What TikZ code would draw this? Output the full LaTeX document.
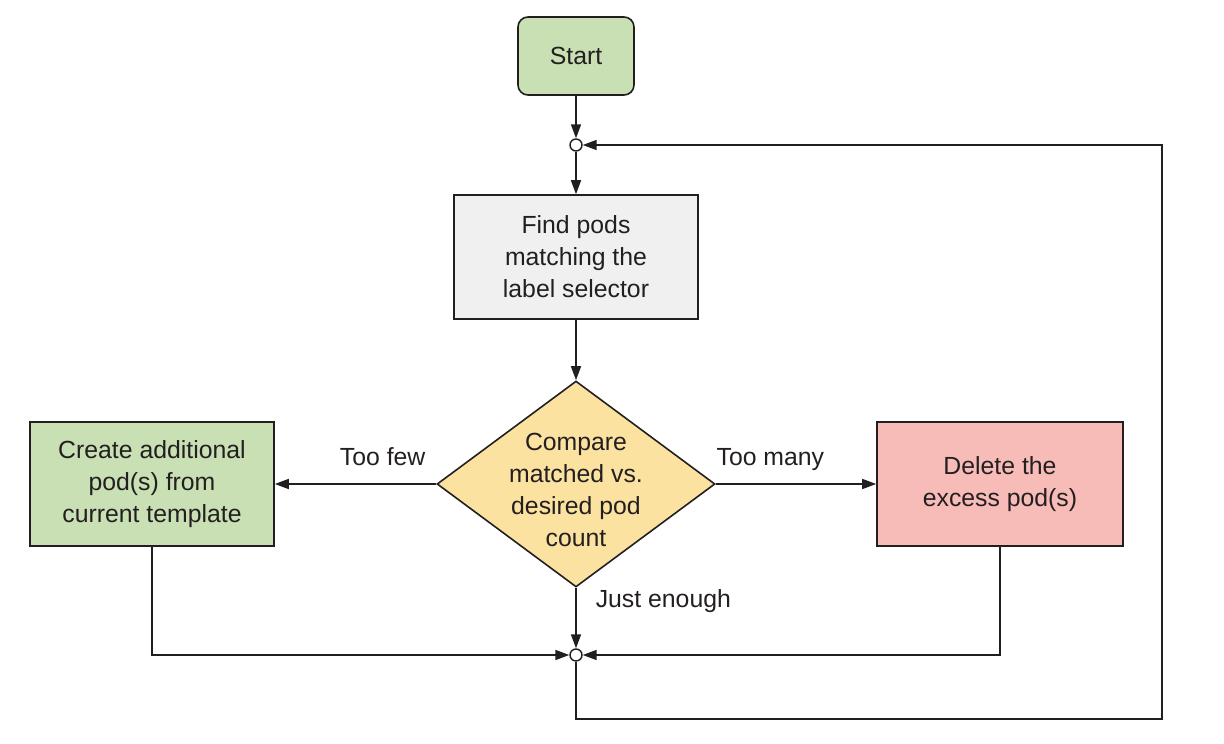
\documentclass[tikz,border=0pt]{standalone}
\usepackage{fontspec}
\setmainfont{Liberation Sans}
\usepackage{xcolor}
\usepackage{tikz}
\usetikzlibrary{positioning,
                arrows.meta,
                shapes.geometric,
                calc}

\definecolor{startgreen}{HTML}{C8E0B4}
\definecolor{findgray}{HTML}{F0F0F0}
\definecolor{cmpyellow}{HTML}{FCE2A0}
\definecolor{delpink}{HTML}{F8BCB8}
\definecolor{inkdark}{HTML}{231F20}

\begin{document}
\begin{tikzpicture}
[node distance=100pt,on grid,>={Triangle[length=14pt,width=10pt]},
 line width=1.6pt,draw=inkdark,text=inkdark,
 font=\fontsize{24.8}{32}\selectfont,
 every box/.style={draw=inkdark,line width=1.6pt,align=center,inner sep=0pt},
 stepbox/.style={every box,minimum width=244pt,minimum height=124pt},
 junction/.style={circle,draw=inkdark,fill=white,line width=1.4pt,minimum size=12pt,inner sep=0pt},
 flow/.style={->,draw=inkdark},
 every label/.style={inner sep=0pt}]

\useasboundingbox (0,0) rectangle (1224pt,-744pt);

\node [every box,fill=startgreen,rounded corners=10pt,minimum width=116pt,minimum height=78pt] (start) at (576pt,-56pt) {Start};
\node [junction] (j1) [below=89pt of start] {};
\node [stepbox,fill=findgray] (find) [below=112pt of j1] {Find pods\\matching the\\label selector};
\node [every box,diamond,fill=cmpyellow,minimum width=278pt,minimum height=206pt] (cmp) [below=227pt of find] {};
\node [align=center,inner sep=0pt] (cmptext) at ([yshift=-6pt]cmp.center) {Compare\\matched vs.\\desired pod\\count};
\node [stepbox,fill=startgreen] (create) [left=424pt of cmp] {Create additional\\pod(s) from\\current template};
\node [stepbox,fill=delpink,minimum width=246pt] (delete) [right=424pt of cmp] {Delete the\\excess pod(s)};
\node [junction] (j2) [below=171pt of cmp] {};
\coordinate (loop) at ($(j2)+(586pt,-64pt)$);

\draw [flow] (start) -- (j1);
\draw [flow] (j1) -- (find);
\draw [flow] (find) -- (cmp);
\draw [flow] (cmp.west) -- node [at start,every label,anchor=base east,xshift=-10pt,yshift=19pt] {Too few} (create.east);
\draw [flow] (cmp.east) -- node [at start,every label,anchor=base west,yshift=19pt] {Too many} (delete.west);
\draw [flow] (cmp.south) -- node [at start,every label,anchor=base west,xshift=19pt,yshift=-20pt] {Just enough} (j2);
\draw [flow] (create.south) |- (j2);
\draw [flow] (delete.south) |- (j2);
\draw [flow] (j2.south) |- (loop) |- (j1);
\end{tikzpicture}
\end{document}
